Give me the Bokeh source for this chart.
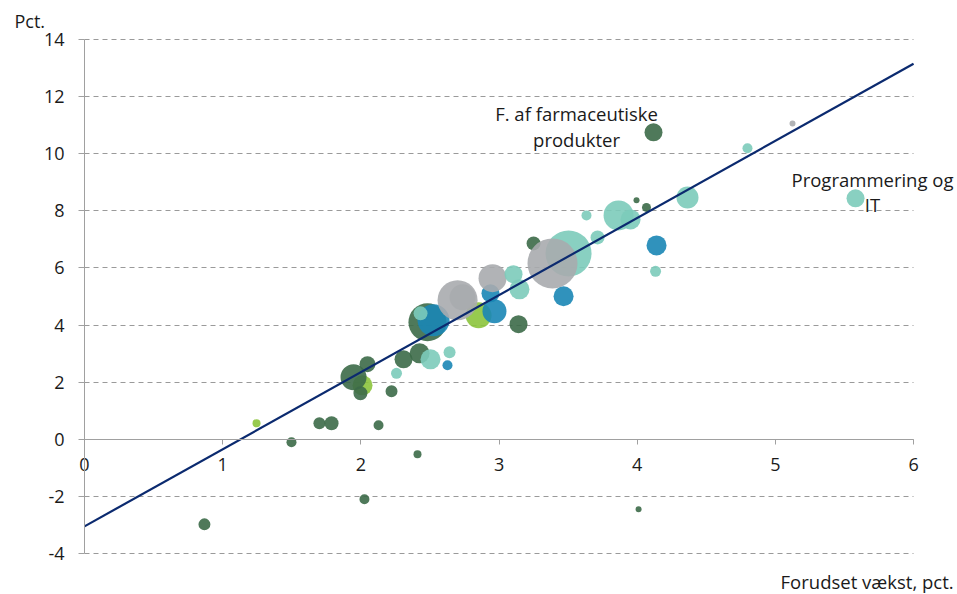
from bokeh.plotting import figure
from bokeh.models import Range1d, FixedTicker, Label, ColumnDataSource
from bokeh.embed import file_html
from bokeh.resources import INLINE

# ---- data ----
DG, TE, BL, LI, GR = "#3c6a48", "#7ccbba", "#1a86b5", "#8cc43c", "#a9abae"

forudset = [0.868, 1.245, 1.498, 1.70, 1.788, 2.128, 2.41, 2.026, 4.01,
            2.012, 1.947, 1.997, 2.048, 2.222, 2.258, 2.309, 2.425, 2.504, 2.642, 2.627,
            2.482, 2.526, 2.432, 2.852, 2.70, 2.736, 2.967, 2.938, 2.953, 3.105, 3.148, 3.141,
            3.25, 3.503, 3.467, 3.387, 3.633, 3.713, 3.865, 3.952, 3.995, 4.067, 4.14, 4.133,
            4.118, 4.364, 4.798, 5.124, 5.58]
faktisk = [-2.98, 0.56, -0.105, 0.56, 0.56, 0.49, -0.525, -2.10, -2.45,
           1.89, 2.17, 1.61, 2.63, 1.68, 2.31, 2.80, 3.01, 2.80, 3.05, 2.59,
           4.10, 4.17, 4.41, 4.34, 4.87, 4.97, 4.48, 5.11, 5.64, 5.78, 5.25, 4.03,
           6.86, 6.51, 5.01, 6.16, 7.84, 7.07, 7.84, 7.70, 8.37, 8.12, 6.79, 5.88,
           10.75, 8.47, 10.19, 11.06, 8.44]
vaegt = [12, 8, 10, 12, 14, 10, 8, 10, 6,
         20, 26, 14, 16, 12, 11, 18, 20, 20, 12, 10,
         38, 32, 14, 26, 40, 26, 24, 18, 28, 18, 20, 18,
         14, 46, 20, 50, 10, 14, 30, 20, 6, 9, 20, 11,
         18, 22, 10, 6, 18]
farve = [DG, LI, DG, DG, DG, DG, DG, DG, DG,
         LI, DG, DG, DG, DG, TE, DG, DG, TE, TE, BL,
         DG, BL, TE, LI, GR, GR, BL, BL, GR, TE, TE, DG,
         DG, TE, BL, GR, TE, TE, TE, TE, DG, DG, BL, TE,
         DG, TE, TE, GR, TE]

fit_x = [0, 6]
fit_intercept = -3.05
fit_slope = 2.7

y_ticks = [-4, -2, 0, 2, 4, 6, 8, 10, 12, 14]
x_ticks = [0, 1, 2, 3, 4, 5, 6]

annot_text = ["F. af farmaceutiske", "produkter", "Programmering og", "IT"]
annot_x = [3.561, 3.561, 5.703, 5.703]
annot_y = [11.41, 10.50, 9.10, 8.23]

y_title = "Pct."
x_title = "Forudset vækst, pct."

FONT = "Open Sans"
TXT = "#1a1a1a"

p = figure(frame_width=957, frame_height=594, output_backend="svg", toolbar_location=None,
           title=None,
           x_range=Range1d(-0.6079, 6.318), y_range=Range1d(-5.436, 15.366),
           min_border_left=0, min_border_top=0, min_border_right=0, min_border_bottom=0)
p.outline_line_color = None
p.background_fill_color = "white"
p.border_fill_color = "white"

p.xgrid.grid_line_color = None
p.ygrid.ticker = FixedTicker(ticks=y_ticks)
p.ygrid.grid_line_color = "#9a9a9a"
p.ygrid.grid_line_dash = "5 4"
p.ygrid.grid_line_width = 1
g = p.ygrid[0]
if "cross_bounds" in g.properties():
    g.cross_bounds = (0, 6)

p.yaxis.ticker = FixedTicker(ticks=y_ticks)
p.yaxis.major_label_overrides = {t: str(t) for t in y_ticks}
p.yaxis.fixed_location = 0
p.yaxis.bounds = (-4, 14)
p.xaxis.ticker = FixedTicker(ticks=x_ticks)
p.xaxis.fixed_location = 0
p.xaxis.bounds = (0, 6)
for ax in (p.xaxis, p.yaxis):
    ax.axis_line_color = "#a0a0a0"
    ax.major_tick_line_color = "#a0a0a0"
    ax.minor_tick_line_color = None
    ax.major_tick_in = 0
    ax.major_label_text_font = FONT
    ax.major_label_text_font_size = "18px"
    ax.major_label_text_color = TXT
p.yaxis.major_tick_out = 6
p.yaxis.major_label_standoff = 14
p.xaxis.major_tick_out = 5
p.xaxis.major_label_standoff = 14

src = ColumnDataSource(dict(x=forudset, y=faktisk, s=vaegt, c=farve))
p.scatter("x", "y", size="s", fill_color="c", line_color=None, fill_alpha=0.9, source=src)

fit_y = [fit_intercept + fit_slope * v for v in fit_x]
p.line(fit_x, fit_y, line_color="#0b2a6f", line_width=2.2)

for t, ax_, ay_ in zip(annot_text, annot_x, annot_y):
    p.add_layout(Label(x=ax_, y=ay_, text=t, text_align="center", text_baseline="middle",
                       text_font=FONT, text_font_size="18.5px", text_color=TXT))

p.add_layout(Label(x=-0.5066, y=14.636, text=y_title, text_align="left",
                   text_baseline="middle", text_font=FONT, text_font_size="18px",
                   text_color=TXT))
p.add_layout(Label(x=6.29, y=-4.972, text=x_title, text_align="right",
                   text_baseline="middle", text_font=FONT, text_font_size="18.5px",
                   text_color=TXT))

open("out.html", "w").write(file_html(p, INLINE))
